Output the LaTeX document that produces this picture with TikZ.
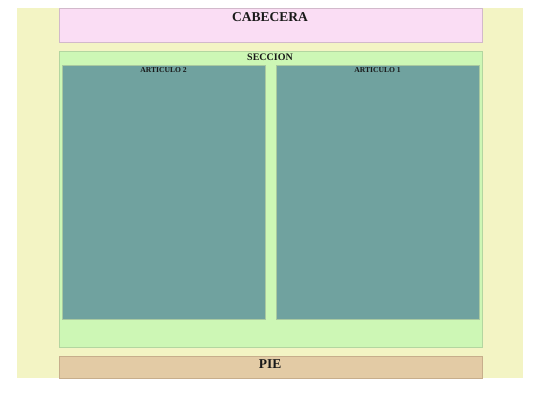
\documentclass[tikz,border=0pt]{standalone}
\usepackage{fontspec}
\setmainfont{Liberation Serif}
\definecolor{bgbeige}{HTML}{F3F4C4}
\definecolor{headpink}{HTML}{FADDF4}
\definecolor{headline}{HTML}{D2B9CB}
\definecolor{secgreen}{HTML}{CDF7B5}
\definecolor{secline}{HTML}{B3D6A0}
\definecolor{artteal}{HTML}{70A29F}
\definecolor{artline}{HTML}{A9C9A0}
\definecolor{foottan}{HTML}{E3CBA5}
\definecolor{footline}{HTML}{C7AE8C}
\tikzset{
  region/.style={draw=#1, line width=0.8pt},
  lbl/.style={inner sep=0pt, font=\bfseries, text=black!90},
}
\begin{document}
\begin{tikzpicture}[x=1pt, y=-1pt]
\useasboundingbox (0,0) rectangle (540,405);
\fill[white] (0,0) rectangle (540,405);
% page background
\fill[bgbeige] (17,8) rectangle (523,378);
% header
\path[fill=headpink, region=headline] (59,8) rectangle (482,42);
\node[lbl, font=\bfseries\fontsize{13.5}{15}\selectfont] (cab) at (270,17.5) {CABECERA};
% section
\path[fill=secgreen, region=secline] (59,51) rectangle (482,347);
\node[lbl, font=\bfseries\fontsize{10}{12}\selectfont] (sec) at (270,57.5) {SECCION};
% articles
\path[fill=artteal, region=artline] (62,65) rectangle (265,319);
\node[lbl, font=\bfseries\fontsize{7.6}{9}\selectfont] (art2) at (163.5,70) {ARTICULO 2};
\path[fill=artteal, region=artline] (276,65) rectangle (479,319);
\node[lbl, font=\bfseries\fontsize{7.6}{9}\selectfont] (art1) at (377.5,70) {ARTICULO 1};
% footer
\path[fill=foottan, region=footline] (59,356) rectangle (482,378);
\node[lbl, font=\bfseries\fontsize{13.5}{15}\selectfont] (pie) at (270,364.5) {PIE};
\end{tikzpicture}
\end{document}
